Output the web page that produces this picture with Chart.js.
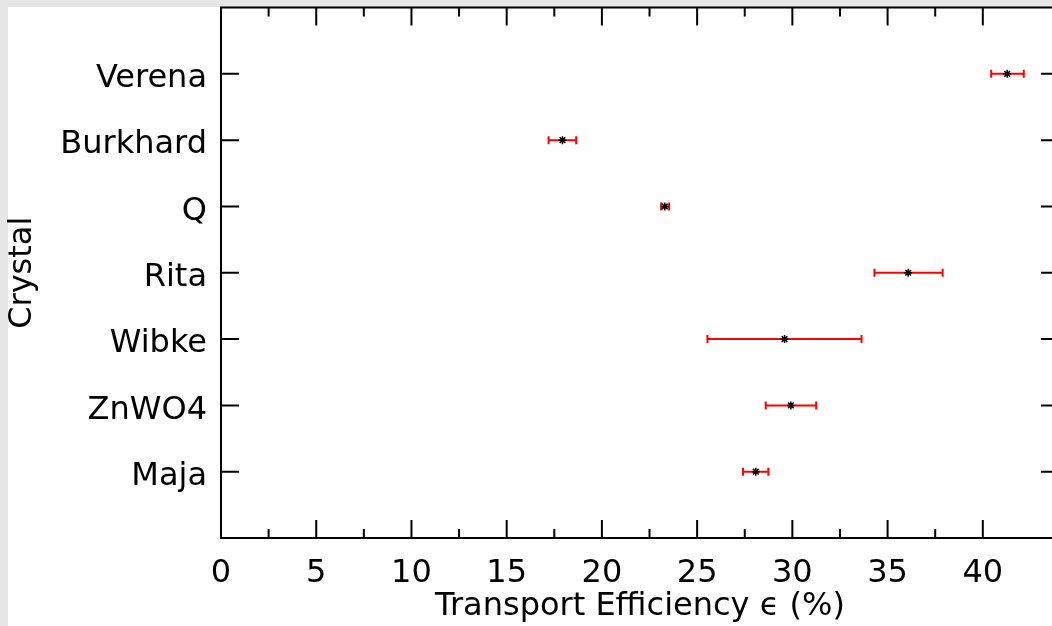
<!DOCTYPE html>
<html>
<head>
<meta charset="utf-8">
<script src="https://cdn.jsdelivr.net/npm/chart.js@4.4.1/dist/chart.umd.min.js"></script>
<style>
  html, body { margin: 0; padding: 0; width: 1052px; height: 626px; overflow: hidden; background: #e6e6e6; }
  #panel { position: absolute; left: 8px; top: 7px; width: 1044px; height: 619px; background: #fff; }
  #chart { position: absolute; left: 0; top: 0; }
</style>
</head>
<body>
<div id="panel"></div>
<canvas id="chart" width="1065" height="626"></canvas>
<script>
// rows from bottom (1) to top (7)
const crystals = ['Maja', 'ZnWO4', 'Wibke', 'Rita', 'Q', 'Burkhard', 'Verena'];
const efficiency = [28.08, 29.92, 29.59, 36.08, 23.30, 17.93, 41.28];
const errLow = [27.41, 28.60, 25.54, 34.31, 23.11, 17.20, 40.44];
const errHigh = [28.74, 31.25, 33.63, 37.89, 23.53, 18.65, 42.15];

Chart.defaults.font.family = "'DejaVu Sans', sans-serif";
Chart.defaults.color = '#000';

const errorBars = crystals.map((name, i) => ({
  type: 'line',
  label: name + ' error',
  data: [{ x: errLow[i], y: i + 1 }, { x: errHigh[i], y: i + 1 }],
  borderColor: '#ff0000',
  borderWidth: 2,
  pointStyle: 'line',
  rotation: 90,
  pointRadius: 4,
  pointHoverRadius: 4,
  pointBorderColor: '#ff0000',
  pointBorderWidth: 2,
  order: 2
}));

// gnuplot style frame with inward ticks on all four sides
const framePlugin = {
  id: 'frame',
  afterDraw(chart) {
    const { ctx, chartArea: a, scales: { x, y } } = chart;
    ctx.save();
    ctx.strokeStyle = '#000';
    ctx.lineWidth = 2;
    ctx.strokeRect(a.left, a.top, a.right - a.left, a.bottom - a.top);
    ctx.beginPath();
    x.ticks.forEach((t) => {
      if (t.value % 2.5 !== 0 || t.value <= x.min) return;
      const px = x.getPixelForValue(t.value);
      const len = t.value % 5 === 0 ? 18 : 9;
      ctx.moveTo(px, a.bottom); ctx.lineTo(px, a.bottom - len);
      ctx.moveTo(px, a.top); ctx.lineTo(px, a.top + len);
    });
    y.ticks.forEach((t) => {
      if (t.value <= y.min || t.value >= y.max) return;
      const py = y.getPixelForValue(t.value);
      ctx.moveTo(a.left, py); ctx.lineTo(a.left + 18, py);
      ctx.moveTo(a.right, py); ctx.lineTo(a.right - 18, py);
    });
    ctx.stroke();
    ctx.restore();
  }
};

new Chart(document.getElementById('chart'), {
  type: 'scatter',
  data: {
    datasets: [
      ...errorBars,
      {
        type: 'scatter',
        label: 'Transport Efficiency',
        data: efficiency.map((v, i) => ({ x: v, y: i + 1 })),
        pointStyle: 'star',
        pointRadius: 4,
        pointHoverRadius: 4,
        borderColor: '#000',
        backgroundColor: '#000',
        borderWidth: 1.5,
        order: 1
      }
    ]
  },
  plugins: [framePlugin],
  options: {
    responsive: false,
    animation: false,
    events: [],
    layout: { padding: { left: 0, top: 7.5, right: 1, bottom: 0 } },
    plugins: { legend: { display: false }, tooltip: { enabled: false } },
    scales: {
      x: {
        type: 'linear',
        min: 0,
        max: 44,
        grid: { display: false, drawTicks: false },
        border: { display: false },
        ticks: {
          stepSize: 2.5,
          autoSkip: false,
          maxRotation: 0,
          padding: 16,
          font: { size: 32 },
          callback: (v) => (v % 5 === 0 ? v : '')
        },
        title: { display: true, text: 'Transport Efficiency ϵ (%)', font: { size: 32 }, padding: { top: 0, bottom: 0 } },
        afterFit: (s) => { s.height = 88; s.paddingLeft = 0; s.paddingRight = 0; }
      },
      y: {
        type: 'linear',
        min: 0,
        max: 8,
        grid: { display: false, drawTicks: false },
        border: { display: false },
        ticks: {
          stepSize: 1,
          autoSkip: false,
          padding: 14,
          labelOffset: 5,
          font: { size: 32 },
          callback: (v) => crystals[v - 1] || ''
        },
        title: { display: true, text: 'Crystal', font: { size: 32 }, padding: { top: 3, bottom: 0 } },
        afterFit: (s) => { s.width = 221; s.paddingTop = 0; s.paddingBottom = 0; }
      }
    }
  }
});
</script>
</body>
</html>
